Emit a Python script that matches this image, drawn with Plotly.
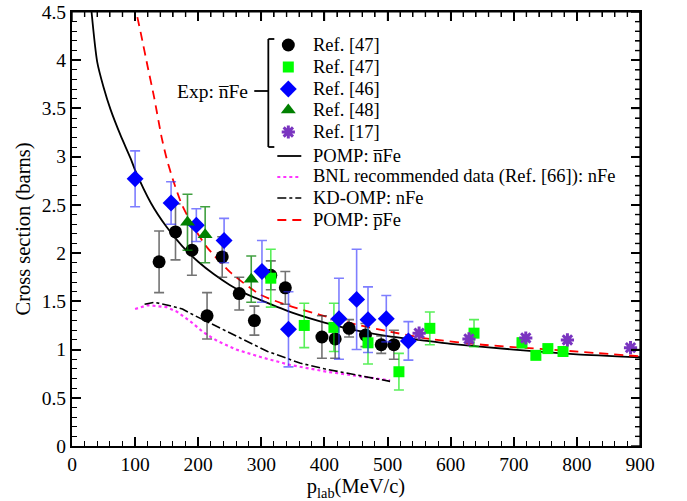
import plotly.graph_objects as go

# ---------------- data ----------------
# Ref. [47] black circles
circ_p = [138, 164, 190, 214, 238, 265, 289, 315, 338, 396, 417, 439, 465, 490, 510]
circ_s = [1.91, 2.22, 2.03, 1.35, 1.96, 1.58, 1.30, 1.77, 1.64, 1.13, 1.11, 1.22, 1.15, 1.05, 1.05]
circ_e = [0.32, 0.29, 0.26, 0.24, 0.21, 0.17, 0.15, 0.15, 0.17, 0.22, 0.20, 0.09, 0.12, 0.09, 0.15]

# Ref. [47] green squares
sq_p = [315, 368, 415, 469, 518, 567, 637, 713, 735, 754, 778]
sq_s = [1.74, 1.25, 1.23, 1.07, 0.77, 1.22, 1.17, 1.07, 0.94, 1.01, 0.98]
sq_e = [0.30, 0.23, 0.25, 0.22, 0.19, 0.17, 0.14, 0.05, 0.03, 0.03, 0.03]

# Ref. [46] blue diamonds
dia_p = [100, 157, 197, 241, 301, 343, 423, 451, 469, 498, 533]
dia_s = [2.77, 2.52, 2.29, 2.13, 1.81, 1.21, 1.32, 1.52, 1.31, 1.32, 1.09]
dia_e = [0.29, 0.22, 0.17, 0.23, 0.32, 0.39, 0.42, 0.52, 0.34, 0.24, 0.20]

# Ref. [48] dark green triangles
tri_p = [183, 211, 284]
tri_s = [2.32, 2.19, 1.73]
tri_e = [0.29, 0.29, 0.24]

# Ref. [17] purple stars
star_p = [550, 629, 719, 785, 885]
star_s = [1.17, 1.11, 1.12, 1.10, 1.02]

# POMP: nbar Fe
pomp_n_p = [28, 31, 40, 50, 61, 77, 93, 100, 125, 150, 175, 200, 225, 250, 275, 300, 350, 400, 450, 500, 550, 600, 700, 800, 900]
pomp_n_s = [4.75, 4.5, 3.98, 3.72, 3.49, 3.22, 2.98, 2.86, 2.52, 2.27, 2.07, 1.91, 1.78, 1.67, 1.58, 1.51, 1.38, 1.28, 1.20, 1.14, 1.10, 1.06, 1.00, 0.95, 0.92]

# BNL recommended data: nFe
bnl_p = [100, 120, 150, 167, 188, 208, 230, 260, 300, 346, 404, 472, 504]
bnl_s = [1.42, 1.46, 1.44, 1.39, 1.29, 1.18, 1.09, 1.00, 0.92, 0.84, 0.77, 0.71, 0.68]

# KD-OMP: nFe
kd_p = [115, 130, 152, 175, 192, 214, 245, 278, 310, 340, 361, 400, 425, 460, 504]
kd_s = [1.47, 1.49, 1.46, 1.42, 1.36, 1.29, 1.19, 1.08, 0.98, 0.91, 0.86, 0.80, 0.77, 0.72, 0.67]

# POMP: pbar Fe
pomp_p_p = [100, 102, 110, 120, 130, 142, 150, 160, 173, 190, 214, 251, 298, 346, 393, 450, 500, 567, 650, 757, 900]
pomp_p_s = [4.6, 4.5, 4.25, 3.93, 3.62, 3.2, 2.98, 2.76, 2.52, 2.3, 2.06, 1.80, 1.57, 1.45, 1.36, 1.26, 1.19, 1.11, 1.05, 1.00, 0.93]

x_ticks = [0, 100, 200, 300, 400, 500, 600, 700, 800, 900]
y_ticks = [0, 0.5, 1, 1.5, 2, 2.5, 3, 3.5, 4, 4.5]

legend_refs = ["Ref. [47]", "Ref. [47]", "Ref. [46]", "Ref. [48]", "Ref. [17]"]
legend_lines = ["POMP: n\u0305Fe", "BNL recommended data (Ref. [66]): nFe", "KD-OMP: nFe", "POMP: p\u0305Fe"]

# ---------------- styles ----------------
FONT = "Liberation Serif"
PURPLE = "#7a35c0"
LFS = 18.5
X_RANGE = [0, 900]
Y_RANGE = [0, 4.5]

fig = go.Figure()

fig.add_trace(go.Scatter(x=bnl_p, y=bnl_s, mode="lines",
                         line=dict(color="#ff33ff", width=2.2, dash="dot")))
fig.add_trace(go.Scatter(x=kd_p, y=kd_s, mode="lines",
                         line=dict(color="black", width=1.6, dash="dashdot")))
fig.add_trace(go.Scatter(x=pomp_n_p, y=pomp_n_s, mode="lines",
                         line=dict(color="black", width=1.8, shape="spline", smoothing=0.6)))
fig.add_trace(go.Scatter(x=pomp_p_p, y=pomp_p_s, mode="lines",
                         line=dict(color="red", width=1.8, dash="9px,6px", shape="spline", smoothing=0.6)))

fig.add_trace(go.Scatter(x=circ_p, y=circ_s, mode="markers",
                         marker=dict(symbol="circle", size=13, color="black"),
                         error_y=dict(type="data", array=circ_e, color="rgba(40,40,40,0.65)",
                                      thickness=1.6, width=5)))
fig.add_trace(go.Scatter(x=sq_p, y=sq_s, mode="markers",
                         marker=dict(symbol="square", size=11, color="#00ff00"),
                         error_y=dict(type="data", array=sq_e, color="rgba(0,230,0,0.65)",
                                      thickness=1.6, width=5)))
fig.add_trace(go.Scatter(x=dia_p, y=dia_s, mode="markers",
                         marker=dict(symbol="diamond", size=13, color="#0000ff"),
                         error_y=dict(type="data", array=dia_e, color="rgba(40,40,255,0.6)",
                                      thickness=1.6, width=5)))
fig.add_trace(go.Scatter(x=tri_p, y=tri_s, mode="markers",
                         marker=dict(symbol="triangle-up", size=13, color="#008000"),
                         error_y=dict(type="data", array=tri_e, color="rgba(0,128,0,0.75)",
                                      thickness=1.6, width=5)))
fig.add_trace(go.Scatter(x=star_p, y=star_s, mode="markers",
                         marker=dict(symbol="asterisk-open", size=11, color=PURPLE,
                                     line=dict(color=PURPLE, width=3))))

# ---------------- legend ----------------
# pixel frame of the plot area in the 687x501 window
L, R, T, B = 71.5, 640, 12, 446
W, H = 687, 501

def px(x):
    return (x - L) / (R - L)
def py(y):
    return (B - y) / (B - T)

row_y = [45, 67, 89, 110, 132]
leg_syms = [dict(symbol="circle", size=13, color="black"),
            dict(symbol="square", size=11, color="#00ff00"),
            dict(symbol="diamond", size=13, color="#0000ff"),
            dict(symbol="triangle-up", size=13, color="#008000"),
            dict(symbol="asterisk-open", size=11, color=PURPLE, line=dict(color=PURPLE, width=3))]
# legend sample markers, placed by converting the legend's paper position to axis units
for yy, m in zip(row_y, leg_syms):
    fig.add_trace(go.Scatter(x=[X_RANGE[0] + px(288) * (X_RANGE[1] - X_RANGE[0])],
                             y=[Y_RANGE[0] + py(yy) * (Y_RANGE[1] - Y_RANGE[0])],
                             mode="markers", marker=m, hoverinfo="skip"))

annotations = []
for yy, t in zip(row_y, legend_refs):
    annotations.append(dict(x=px(311), y=py(yy), xref="paper", yref="paper", text=t,
                            showarrow=False, xanchor="left", yanchor="middle",
                            font=dict(family=FONT, size=LFS, color="black")))
line_rows = [156, 177, 198, 220]
line_styles = [dict(color="black", width=1.8, dash="solid"),
               dict(color="#ff33ff", width=2.2, dash="dot"),
               dict(color="black", width=1.6, dash="dashdot"),
               dict(color="red", width=1.8, dash="9px,6px")]
shapes = []
for yy, t, st in zip(line_rows, legend_lines, line_styles):
    annotations.append(dict(x=px(311), y=py(yy), xref="paper", yref="paper", text=t,
                            showarrow=False, xanchor="left", yanchor="middle",
                            font=dict(family=FONT, size=LFS, color="black")))
    shapes.append(dict(type="line", xref="paper", yref="paper",
                       x0=px(277), x1=px(301), y0=py(yy), y1=py(yy), line=st))

# bracket
bl = dict(color="black", width=1.8)
shapes.append(dict(type="line", xref="paper", yref="paper", x0=px(268), x1=px(268),
                   y0=py(39), y1=py(147), line=bl))
shapes.append(dict(type="line", xref="paper", yref="paper", x0=px(268), x1=px(274),
                   y0=py(39), y1=py(39), line=bl))
shapes.append(dict(type="line", xref="paper", yref="paper", x0=px(268), x1=px(274),
                   y0=py(147), y1=py(147), line=bl))
shapes.append(dict(type="line", xref="paper", yref="paper", x0=px(254), x1=px(268),
                   y0=py(91), y1=py(91), line=bl))
annotations.append(dict(x=px(250), y=py(91), xref="paper", yref="paper",
                        text="Exp: n\u0305Fe", showarrow=False, xanchor="right",
                        yanchor="middle", font=dict(family=FONT, size=LFS + 1, color="black")))

# plot frame: top and right edges drawn as paper lines just outside the plot area
fl = dict(color="black", width=2.2)
shapes.append(dict(type="line", xref="paper", yref="paper", x0=px(L - 1), x1=px(R + 1),
                   y0=py(T - 0.5), y1=py(T - 0.5), line=fl, layer="above"))
shapes.append(dict(type="line", xref="paper", yref="paper", x0=px(R + 0.5), x1=px(R + 0.5),
                   y0=py(B + 1), y1=py(T - 1), line=fl, layer="above"))

# mirrored tick marks on top and right edges, as paper-referenced short lines
tick_style = dict(color="black", width=1.4)
for i in range(0, 46):
    v = 20 * i
    f = (v - X_RANGE[0]) / (X_RANGE[1] - X_RANGE[0])
    ln = 9 if v % 100 == 0 else 5
    shapes.append(dict(type="line", xref="paper", yref="paper", x0=f, x1=f,
                       y0=1, y1=1 - ln / (B - T), line=tick_style))
for i in range(0, 46):
    v = 0.1 * i
    f = (v - Y_RANGE[0]) / (Y_RANGE[1] - Y_RANGE[0])
    ln = 9 if i % 5 == 0 else 5
    shapes.append(dict(type="line", xref="paper", yref="paper", y0=f, y1=f,
                       x0=1, x1=1 - ln / (R - L), line=tick_style))

axis_common = dict(showline=True, linecolor="black", linewidth=2, mirror="ticks",
                   ticks="inside", ticklen=9, tickwidth=1.5, tickcolor="black",
                   showgrid=False, zeroline=False, automargin=False,
                   tickfont=dict(family=FONT, size=19.5, color="black"))
x_minor = dict(ticks="inside", ticklen=5, dtick=20, tickcolor="black", tickwidth=1.2)
y_minor = dict(ticks="inside", ticklen=5, dtick=0.1, tickcolor="black", tickwidth=1.2)

fig.update_layout(
    width=W, height=H,
    margin=dict(l=L, r=W - R, t=T, b=H - B, pad=0),
    paper_bgcolor="white", plot_bgcolor="white",
    showlegend=False,
    annotations=annotations, shapes=shapes,
    xaxis=dict(range=X_RANGE, tickvals=x_ticks, **axis_common, minor=x_minor,
               title=dict(text="p<sub>lab</sub>(MeV/c)", font=dict(family=FONT, size=20.5, color="black"),
                          standoff=2)),
    yaxis=dict(range=Y_RANGE, tickvals=y_ticks, **axis_common, minor=y_minor,
               title=dict(text="Cross section (barns)", font=dict(family=FONT, size=20.5, color="black"),
                          standoff=6)),
)

fig.write_html("out.html", config={"displayModeBar": False},
               post_script="document.body.style.margin='0';document.body.style.overflow='hidden';")
